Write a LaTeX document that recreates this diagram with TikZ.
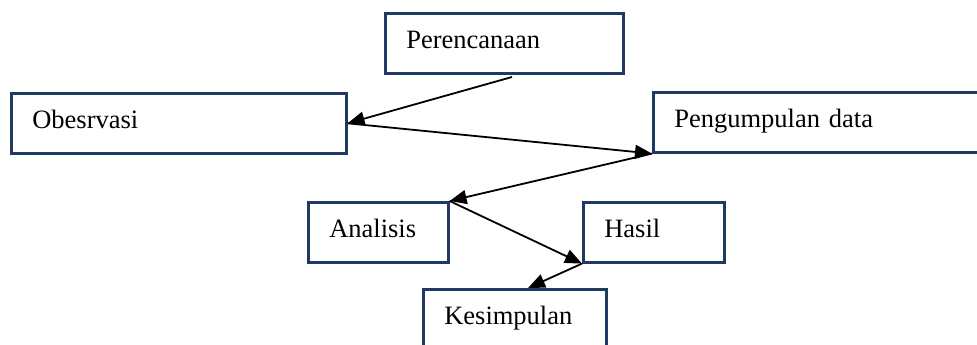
\documentclass[tikz,border=0pt]{standalone}
\usepackage{fontspec}
\setmainfont{Liberation Serif}
\usetikzlibrary{arrows.meta}
\definecolor{boxblue}{RGB}{31,56,100}

\begin{document}
\begin{tikzpicture}[x=1pt, y=-1pt,
	stage/.style={draw=boxblue, line width=2.6pt, rectangle, anchor=north west, inner xsep=21pt, inner ysep=0pt, minimum height=60pt, align=left, text height=18pt, text depth=7pt, font=\fontsize{26.5}{30}\selectfont},
	flow/.style={draw=black, line width=1.8pt, -{Triangle[length=17pt, width=14pt]}}]
	\useasboundingbox (0, 0) rectangle (977, 345);
	\clip (0, 0) rectangle (977, 345);
	\node[stage, text width=196pt] (plan) at (384, 12) {Perencanaan};
	\node[stage, text width=293pt] (obs) at (10, 92) {Obesrvasi};
	\node[stage, text width=298pt] (data) at (652, 91) {Pengumpulan data};
	\node[stage, text width=98pt] (anal) at (307, 201) {Analisis};
	\node[stage, text width=99pt] (hasil) at (582, 201) {Hasil};
	\node[stage, text width=141pt] (kesim) at (422, 288) {Kesimpulan};
	\coordinate (planOut) at (512, 77);
	\coordinate (kesimIn) at (528, 288);
	\draw[flow] (planOut) -- (obs.east);
	\draw[flow] (obs.east) -- (data.south west);
	\draw[flow] (data.south west) -- (anal.north east);
	\draw[flow] (anal.north east) -- (hasil.south west);
	\draw[flow] (hasil.south west) -- (kesimIn);
\end{tikzpicture}
\end{document}
